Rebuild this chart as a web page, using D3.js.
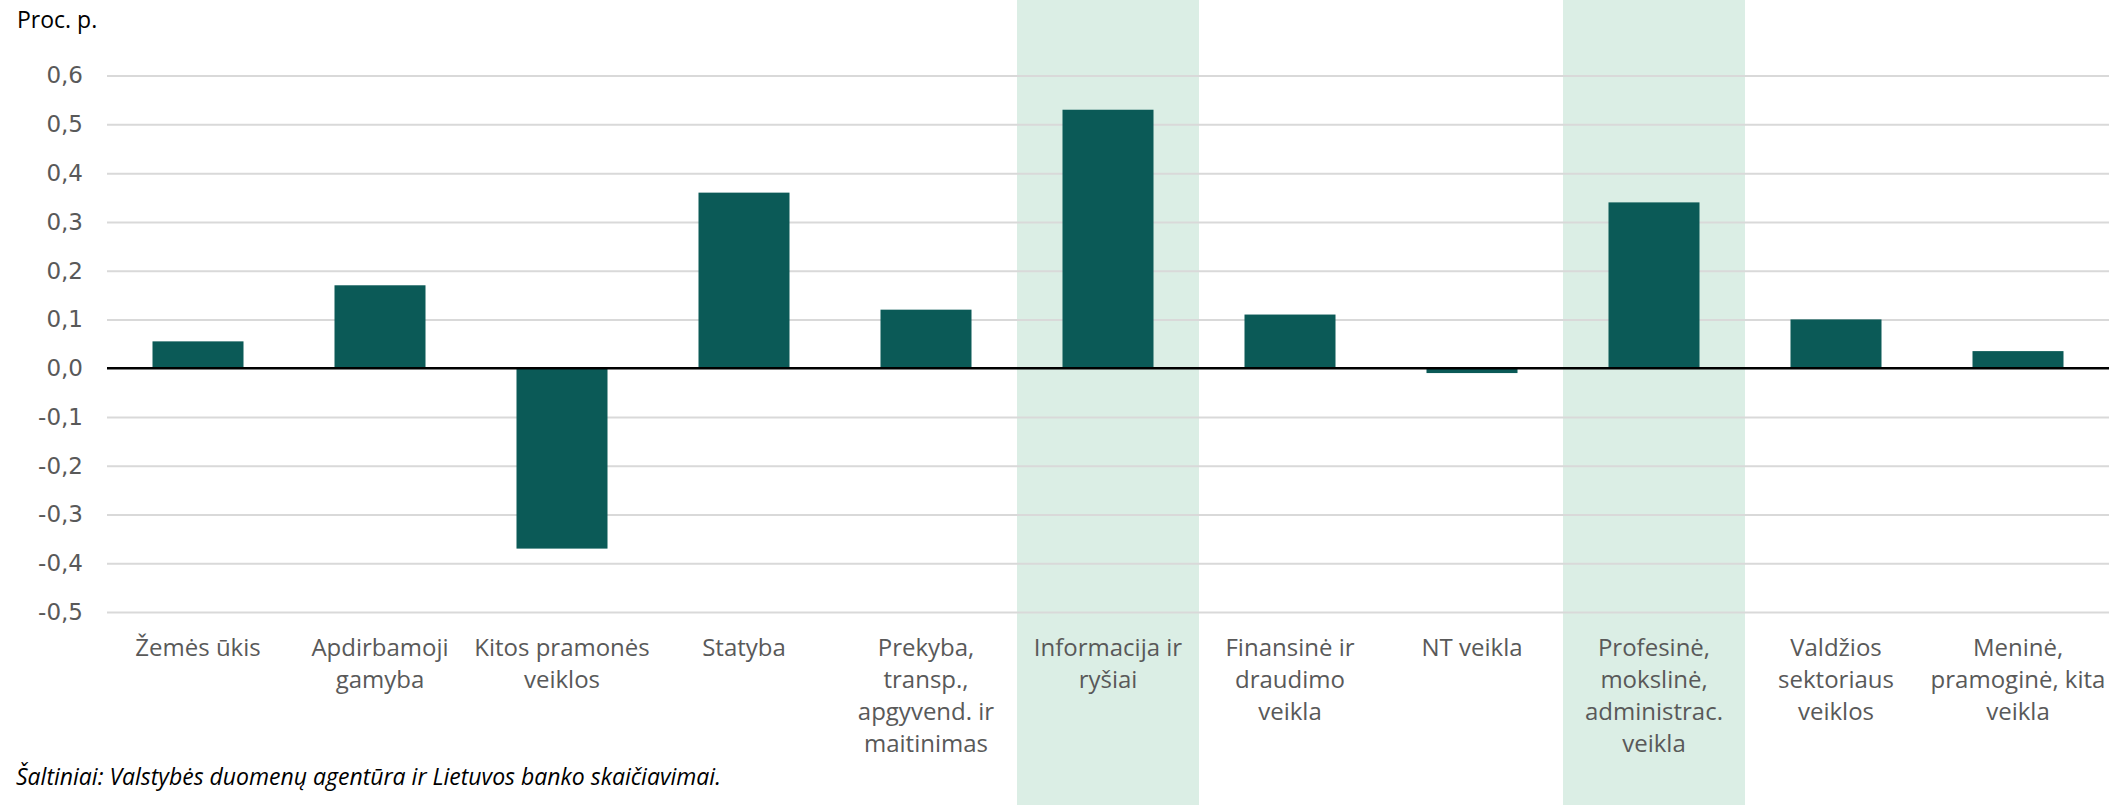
<!DOCTYPE html>
<html>
<head>
<meta charset="utf-8">
<script src="https://cdn.jsdelivr.net/npm/d3@7"></script>
<style>
  body { margin: 0; background: #fff; }
  svg { display: block; }
</style>
</head>
<body>
<svg width="2126" height="805"></svg>
<script>
var categories = [
  ["Žemės ūkis"],
  ["Apdirbamoji", "gamyba"],
  ["Kitos pramonės", "veiklos"],
  ["Statyba"],
  ["Prekyba,", "transp.,", "apgyvend. ir", "maitinimas"],
  ["Informacija ir", "ryšiai"],
  ["Finansinė ir", "draudimo", "veikla"],
  ["NT veikla"],
  ["Profesinė,", "mokslinė,", "administrac.", "veikla"],
  ["Valdžios", "sektoriaus", "veiklos"],
  ["Meninė,", "pramoginė, kita", "veikla"]
];
var values = [0.055, 0.17, -0.37, 0.36, 0.12, 0.53, 0.11, -0.01, 0.34, 0.10, 0.035];
var highlighted = [5, 8];
var yTicks = [-0.5, -0.4, -0.3, -0.2, -0.1, 0, 0.1, 0.2, 0.3, 0.4, 0.5, 0.6];

var svg = d3.select("svg");
var W = 2126, H = 805;

var ids = categories.map(function(d, i) { return i; });

var x = d3.scaleBand()
  .domain(ids)
  .range([107, 2109])
  .padding(0);

var y = d3.scaleLinear()
  .domain([-0.5, 0.6])
  .range([612, 75.6]);

var loc = d3.formatLocale({decimal: ",", thousands: " ", grouping: [3], currency: ["", ""], minus: "-"});
var fmt = loc.format(".1f");

// shaded columns
svg.selectAll("rect.band")
  .data(highlighted)
  .enter()
  .append("rect")
  .attr("class", "band")
  .attr("x", function(d) { return x(d); })
  .attr("y", 0)
  .attr("width", x.bandwidth())
  .attr("height", H)
  .attr("fill", "#dbeee5");

// grid + y labels
var yAxis = d3.axisLeft(y)
  .tickValues(yTicks)
  .tickSize(-(2109 - 107))
  .tickPadding(24)
  .tickFormat(function(d) { return fmt(d); });

var gy = svg.append("g")
  .attr("transform", "translate(107,0)")
  .call(yAxis);
gy.select(".domain").remove();
gy.selectAll(".tick line")
  .attr("stroke", function(d) { return d === 0 ? "none" : "#d9d9d9"; })
  .attr("stroke-width", 2);
gy.selectAll(".tick text")
  .attr("fill", "#595959")
  .attr("font-family", "DejaVu Sans, Verdana, sans-serif")
  .attr("font-size", 23);

// bars
svg.selectAll("rect.bar")
  .data(values)
  .enter()
  .append("rect")
  .attr("class", "bar")
  .attr("x", function(d, i) { return x(i) + x.bandwidth() / 4; })
  .attr("y", function(d) { return y(Math.max(0, d)); })
  .attr("width", x.bandwidth() / 2)
  .attr("height", function(d) { return Math.abs(y(d) - y(0)); })
  .attr("fill", "#0b5a57");

// zero line
svg.append("line")
  .attr("x1", 107)
  .attr("x2", 2109)
  .attr("y1", y(0))
  .attr("y2", y(0))
  .attr("stroke", "#000")
  .attr("stroke-width", 2.5);

// category labels
var xl = svg.append("g").selectAll("text")
  .data(categories)
  .enter()
  .append("text")
  .attr("x", function(d, i) { return x(i) + x.bandwidth() / 2; })
  .attr("y", 656)
  .attr("text-anchor", "middle")
  .attr("fill", "#595959")
  .attr("font-family", "Open Sans, sans-serif")
  .attr("font-size", 24);
xl.selectAll("tspan")
  .data(function(d) { return d; })
  .enter()
  .append("tspan")
  .attr("x", function() { return d3.select(this.parentNode).attr("x"); })
  .attr("dy", function(d, j) { return j === 0 ? 0 : 32; })
  .text(function(d) { return d; });

// unit label
svg.append("text")
  .attr("x", 17)
  .attr("y", 28)
  .attr("font-family", "Open Sans, sans-serif")
  .attr("font-size", 23)
  .attr("fill", "#000")
  .text("Proc. p.");

// source
svg.append("text")
  .attr("x", 16)
  .attr("y", 785)
  .attr("font-family", "Open Sans, sans-serif")
  .attr("font-style", "italic")
  .attr("font-size", 23)
  .attr("fill", "#000")
  .text("Šaltiniai: Valstybės duomenų agentūra ir Lietuvos banko skaičiavimai.");
</script>
</body>
</html>
